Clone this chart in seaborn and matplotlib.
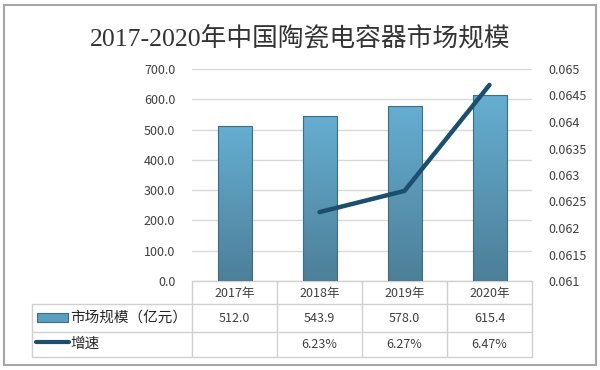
import numpy as np
import pandas as pd
import matplotlib
matplotlib.use("Agg")
import matplotlib.pyplot as plt
import matplotlib.transforms as mtransforms
from matplotlib.patches import Rectangle
from matplotlib.lines import Line2D
from matplotlib.ticker import MultipleLocator, FuncFormatter
import seaborn as sns

# данные
years = ["2017年", "2018年", "2019年", "2020年"]
market_size = [512.0, 543.9, 578.0, 615.4]
growth = [np.nan, 0.0623, 0.0627, 0.0647]
growth_labels = ["", "6.23%", "6.27%", "6.47%"]
title = "2017-2020年中国陶瓷电容器市场规模"
row_names = ["市场规模（亿元）", "增速"]

sns.set_theme(style="white")
plt.rcParams['font.family'] = ['Noto Sans CJK SC', 'DejaVu Sans']

W, H = 600, 370
fx = lambda px: px / W
fy = lambda py: 1 - py / H

df = pd.DataFrame({"year": years, "size": market_size, "growth": growth,
                   "pos": np.arange(len(years))})

fig = plt.figure(figsize=(6, 3.7), dpi=100)
fig.patch.set_facecolor("white")
fig.add_artist(Rectangle((fx(4), fy(365)), fx(592), 360 / H, transform=fig.transFigure,
                         fill=False, edgecolor="#a6a6a6", lw=1.5))
fig.text(0.5, fy(38), title, ha="center", va="center", fontsize=18.5, color="#333333",
         family=['Liberation Serif', 'Noto Sans CJK SC'], weight="light")

ax = fig.add_axes([fx(192), fy(281), fx(340), 212 / H])
sns.barplot(data=df, x="year", y="size", ax=ax, width=0.4, color="#5a9fc2",
            edgecolor="#3e6c83", linewidth=0.8, zorder=3)
ax.set_xlim(-0.5, 3.5)
ax.set_ylim(0, 700)
ax.yaxis.set_major_locator(MultipleLocator(100))
ax.yaxis.set_major_formatter(FuncFormatter(lambda v, p: f"{v:.1f}"))
ax.grid(axis="y", color="#d9d9d9", lw=1, zorder=0)
ax.set_xlabel("")
ax.set_ylabel("")
ax.set_xticks([])
for s in ax.spines.values():
    s.set_visible(False)
ax.tick_params(axis="y", length=0, pad=12, labelsize=9, labelcolor="#404040")

# градиент на столбцах
grad = np.linspace(0, 1, 256).reshape(-1, 1)
cmap = matplotlib.colors.LinearSegmentedColormap.from_list("g", ["#4d7f98", "#65aed2"])
for bar in ax.patches:
    x0, y0 = bar.get_x(), bar.get_y()
    w, h = bar.get_width(), bar.get_height()
    im = ax.imshow(grad, extent=[x0, x0 + w, y0, y0 + h], origin="lower", cmap=cmap,
                   aspect="auto", zorder=3)
    im.set_clip_path(bar)
    bar.set_facecolor("none")
    bar.set_zorder(4)
ax.set_xlim(-0.5, 3.5)
ax.set_ylim(0, 700)

ax2 = ax.twinx()
sns.lineplot(data=df, x="pos", y="growth", ax=ax2, color="#1b4f6d", lw=3.2, zorder=5)
ax2.set_ylim(0.061, 0.065)
ax2.yaxis.set_major_locator(MultipleLocator(0.0005))
ax2.yaxis.set_major_formatter(FuncFormatter(lambda v, p: f"{v:g}"))
ax2.set_ylabel("")
ax2.set_xlabel("")
for s in ax2.spines.values():
    s.set_visible(False)
ax2.tick_params(axis="y", length=0, pad=12, labelsize=9, labelcolor="#404040")
ax2.grid(False)

# таблица данных
tr = mtransforms.blended_transform_factory(ax.transData, fig.transFigure)
lc = "#d0d0d0"
rows_y = [281, 304, 332, 357]
for i in range(len(years) + 1):
    ax.add_line(Line2D([i - 0.5, i - 0.5], [fy(281), fy(357)], transform=tr,
                       color=lc, lw=1, clip_on=False))
ax.add_line(Line2D([fx(32), fx(32)], [fy(304), fy(357)], transform=fig.transFigure,
                   color=lc, lw=1, clip_on=False))
for yy in rows_y[1:]:
    ax.add_line(Line2D([fx(32), fx(192)], [fy(yy), fy(yy)], transform=fig.transFigure,
                       color=lc, lw=1, clip_on=False))
for yy in rows_y:
    ax.add_line(Line2D([-0.5, 3.5], [fy(yy), fy(yy)], transform=tr,
                       color=lc, lw=1, clip_on=False))

for i, (yr, v, g) in enumerate(zip(years, market_size, growth_labels)):
    ax.text(i, fy(293), yr, transform=tr, ha="center", va="center", fontsize=9, color="#404040")
    ax.text(i, fy(318), f"{v:.1f}", transform=tr, ha="center", va="center", fontsize=9, color="#404040")
    ax.text(i, fy(344), g, transform=tr, ha="center", va="center", fontsize=9, color="#404040")

fig.add_artist(Rectangle((fx(37), fy(322)), fx(31), 9 / H, transform=fig.transFigure,
                         facecolor="#5a9fc2", edgecolor="#3e6c83", lw=0.8))
fig.add_artist(Line2D([fx(36), fx(69)], [fy(342), fy(342)], transform=fig.transFigure,
                      color="#1b4f6d", lw=3))
fig.text(fx(70), fy(318), row_names[0], ha="left", va="center", fontsize=10.5,
         color="#262626", weight="medium")
fig.text(fx(70), fy(344), row_names[1], ha="left", va="center", fontsize=10.5,
         color="#262626", weight="medium")

fig.savefig("out.png", dpi=100)
